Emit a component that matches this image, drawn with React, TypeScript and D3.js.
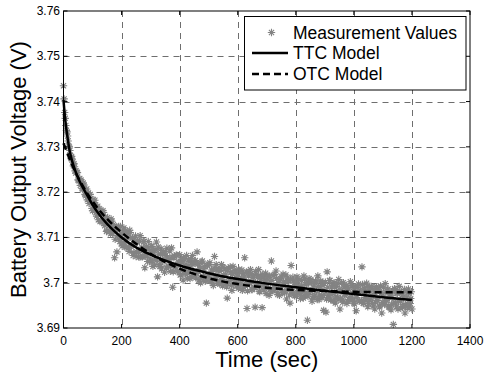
import React from 'react';
import * as d3 from 'd3';

const xTicks = [0, 200, 400, 600, 800, 1000, 1200, 1400];
const yTicks = [3.69, 3.7, 3.71, 3.72, 3.73, 3.74, 3.75, 3.76];
const yTickLabels = ['3.69', '3.7', '3.71', '3.72', '3.73', '3.74', '3.75', '3.76'];

const ttcT = [0, 5, 10, 15, 20, 30, 40, 50, 60, 80, 100, 125, 150, 175, 200, 250, 300, 400, 500, 600, 700, 800, 900, 1000, 1100, 1200];
const ttcV = [3.7403, 3.7366, 3.7338, 3.7316, 3.7295, 3.7268, 3.7248, 3.7232, 3.7218, 3.7195, 3.7172, 3.7149, 3.713, 3.7114, 3.71, 3.7078, 3.7062, 3.7038, 3.7021, 3.7008, 3.6998, 3.699, 3.6982, 3.6975, 3.6968, 3.6962];

const otcT = [0, 10, 20, 30, 40, 50, 60, 80, 100, 125, 150, 175, 200, 250, 300, 400, 500, 600, 700, 800, 900, 1000, 1100, 1200];
const otcV = [3.7308, 3.7291, 3.7275, 3.726, 3.7246, 3.7233, 3.7221, 3.7199, 3.718, 3.7159, 3.7141, 3.7125, 3.7111, 3.7086, 3.7064, 3.7031, 3.701, 3.6997, 3.6989, 3.6984, 3.6982, 3.698, 3.6979, 3.6979];

const measT = [
  0, 2, 4, 8, 12, 16, 20, 24, 28, 32,
  36, 40, 44, 48, 52, 56, 60, 64, 68, 72,
  76, 80, 84, 88, 92, 96, 100, 104, 108, 112,
  116, 120, 124, 128, 132, 136, 140, 144, 148, 152,
  156, 160, 164, 168, 172, 176, 180, 184, 188, 192,
  196, 200, 204, 208, 212, 216, 220, 224, 228, 232,
  236, 240, 244, 248, 252, 256, 260, 264, 268, 272,
  276, 280, 284, 288, 292, 296, 300, 304, 308, 312,
  316, 320, 324, 328, 332, 336, 340, 344, 348, 352,
  356, 360, 364, 368, 372, 376, 380, 384, 388, 392,
  396, 400, 404, 408, 412, 416, 420, 424, 428, 432,
  436, 440, 444, 448, 452, 456, 460, 464, 468, 472,
  476, 480, 484, 488, 492, 496, 500, 504, 508, 512,
  516, 520, 524, 528, 532, 536, 540, 544, 548, 552,
  556, 560, 564, 568, 572, 576, 580, 584, 588, 592,
  596, 600, 604, 608, 612, 616, 620, 624, 628, 632,
  636, 640, 644, 648, 652, 656, 660, 664, 668, 672,
  676, 680, 684, 688, 692, 696, 700, 704, 708, 712,
  716, 720, 724, 728, 732, 736, 740, 744, 748, 752,
  756, 760, 764, 768, 772, 776, 780, 784, 788, 792,
  796, 800, 804, 808, 812, 816, 820, 824, 828, 832,
  836, 840, 844, 848, 852, 856, 860, 864, 868, 872,
  876, 880, 884, 888, 892, 896, 900, 904, 908, 912,
  916, 920, 924, 928, 932, 936, 940, 944, 948, 952,
  956, 960, 964, 968, 972, 976, 980, 984, 988, 992,
  996, 1000, 1004, 1008, 1012, 1016, 1020, 1024, 1028, 1032,
  1036, 1040, 1044, 1048, 1052, 1056, 1060, 1064, 1068, 1072,
  1076, 1080, 1084, 1088, 1092, 1096, 1100, 1104, 1108, 1112,
  1116, 1120, 1124, 1128, 1132, 1136, 1140, 1144, 1148, 1152,
  1156, 1160, 1164, 1168, 1172, 1176, 1180, 1184, 1188, 1192,
  1196, 1200,
];
const measV = [
  3.7435, 3.7406, 3.7376, 3.7347, 3.7333, 3.7313, 3.73, 3.7281, 3.7279, 3.7266,
  3.7263, 3.7247, 3.7247, 3.7243, 3.7225, 3.723, 3.7227, 3.7208, 3.722, 3.7207,
  3.7192, 3.7207, 3.7196, 3.7175, 3.7195, 3.7178, 3.7159, 3.7177, 3.7182, 3.7155,
  3.7161, 3.7139, 3.7163, 3.7154, 3.7135, 3.7159, 3.7136, 3.7145, 3.7113, 3.7144,
  3.7131, 3.7113, 3.7141, 3.7114, 3.7128, 3.7055, 3.7117, 3.7068, 3.7123, 3.7096,
  3.7124, 3.7086, 3.7107, 3.7121, 3.7078, 3.7096, 3.711, 3.7077, 3.7116, 3.708,
  3.7098, 3.706, 3.7089, 3.7103, 3.7068, 3.7093, 3.7056, 3.7104, 3.7074, 3.7057,
  3.7091, 3.7033, 3.7078, 3.7059, 3.7091, 3.7047, 3.7067, 3.708, 3.7036, 3.7072,
  3.7053, 3.709, 3.7013, 3.7063, 3.7036, 3.7075, 3.7049, 3.7066, 3.7023, 3.706,
  3.7076, 3.7037, 3.7051, 3.7025, 3.7077, 3.699, 3.7055, 3.7034, 3.7061, 3.7025,
  3.7045, 3.7062, 3.7018, 3.7046, 3.7006, 3.7052, 3.7031, 3.706, 3.7021, 3.7036,
  3.7009, 3.7045, 3.706, 3.7022, 3.7047, 3.7011, 3.7068, 3.7025, 3.7037, 3.7,
  3.7046, 3.7014, 3.7031, 3.7003, 3.6955, 3.7038, 3.7015, 3.7044, 3.7006, 3.7025,
  3.6994, 3.7058, 3.7015, 3.7031, 3.6999, 3.7025, 3.7007, 3.704, 3.6993, 3.7017,
  3.7031, 3.7, 3.6966, 3.7032, 3.7005, 3.7022, 3.6983, 3.7036, 3.7009, 3.7024,
  3.6993, 3.7014, 3.7029, 3.6996, 3.701, 3.6983, 3.702, 3.7055, 3.6997, 3.6943,
  3.7023, 3.6999, 3.7029, 3.6985, 3.7012, 3.699, 3.6946, 3.7018, 3.6999, 3.7029,
  3.698, 3.7008, 3.6945, 3.7013, 3.6989, 3.7021, 3.6996, 3.7015, 3.6972, 3.7002,
  3.7048, 3.6983, 3.7016, 3.6989, 3.7026, 3.6978, 3.7, 3.6972, 3.7009, 3.6994,
  3.7019, 3.6979, 3.7002, 3.6964, 3.7011, 3.6989, 3.6955, 3.7038, 3.6981, 3.7004,
  3.6971, 3.6996, 3.7013, 3.6977, 3.6991, 3.6965, 3.7005, 3.6982, 3.7015, 3.6971,
  3.6996, 3.6917, 3.7001, 3.6978, 3.7007, 3.6959, 3.699, 3.697, 3.7004, 3.6982,
  3.7015, 3.6963, 3.6991, 3.6971, 3.7, 3.6939, 3.6983, 3.6935, 3.7024, 3.6973,
  3.7005, 3.6962, 3.6991, 3.6976, 3.7, 3.6955, 3.6992, 3.6968, 3.7007, 3.6942,
  3.6984, 3.6962, 3.7, 3.6975, 3.6992, 3.6954, 3.6986, 3.6963, 3.7002, 3.6969,
  3.6993, 3.6955, 3.6986, 3.6938, 3.6977, 3.6997, 3.696, 3.6981, 3.7035, 3.6955,
  3.6988, 3.6967, 3.6999, 3.6947, 3.6981, 3.6962, 3.6992, 3.6954, 3.6974, 3.6942,
  3.6988, 3.6966, 3.6983, 3.6947, 3.6993, 3.6933, 3.6975, 3.6955, 3.6998, 3.6961,
  3.6984, 3.6947, 3.6975, 3.694, 3.6968, 3.6908, 3.6987, 3.6955, 3.6977, 3.6942,
  3.6992, 3.696, 3.6978, 3.6946, 3.6969, 3.6933, 3.6981, 3.6954, 3.6986, 3.6948,
  3.6965, 3.6942,
];

const measT2 = [
  6, 10, 14, 18, 22, 26, 30, 34, 38, 42,
  46, 50, 54, 58, 62, 66, 70, 74, 78, 82,
  86, 90, 94, 98, 102, 106, 110, 114, 118, 122,
  126, 130, 134, 138, 142, 146, 150, 154, 158, 162,
  166, 170, 174, 178, 182, 186, 190, 194, 198, 202,
  206, 210, 214, 218, 222, 226, 230, 234, 238, 242,
  246, 250, 254, 258, 262, 266, 270, 274, 278, 282,
  286, 290, 294, 298, 302, 306, 310, 314, 318, 322,
  326, 330, 334, 338, 342, 346, 350, 354, 358, 362,
  366, 370, 374, 378, 382, 386, 390, 394, 398, 402,
  406, 410, 414, 418, 422, 426, 430, 434, 438, 442,
  446, 450, 454, 458, 462, 466, 470, 474, 478, 482,
  486, 490, 494, 498, 502, 506, 510, 514, 518, 522,
  526, 530, 534, 538, 542, 546, 550, 554, 558, 562,
  566, 570, 574, 578, 582, 586, 590, 594, 598, 602,
  606, 610, 614, 618, 622, 626, 630, 634, 638, 642,
  646, 650, 654, 658, 662, 666, 670, 674, 678, 682,
  686, 690, 694, 698, 702, 706, 710, 714, 718, 722,
  726, 730, 734, 738, 742, 746, 750, 754, 758, 762,
  766, 770, 774, 778, 782, 786, 790, 794, 798, 802,
  806, 810, 814, 818, 822, 826, 830, 834, 838, 842,
  846, 850, 854, 858, 862, 866, 870, 874, 878, 882,
  886, 890, 894, 898, 902, 906, 910, 914, 918, 922,
  926, 930, 934, 938, 942, 946, 950, 954, 958, 962,
  966, 970, 974, 978, 982, 986, 990, 994, 998, 1002,
  1006, 1010, 1014, 1018, 1022, 1026, 1030, 1034, 1038, 1042,
  1046, 1050, 1054, 1058, 1062, 1066, 1070, 1074, 1078, 1082,
  1086, 1090, 1094, 1098, 1102, 1106, 1110, 1114, 1118, 1122,
  1126, 1130, 1134, 1138, 1142, 1146, 1150, 1154, 1158, 1162,
  1166, 1170, 1174, 1178, 1182, 1186, 1190, 1194, 1198,
];
const measV2 = [
  3.7363, 3.7336, 3.7324, 3.7302, 3.7292, 3.7274, 3.7273, 3.7258, 3.7256, 3.7242,
  3.7244, 3.7227, 3.7229, 3.7215, 3.7223, 3.7207, 3.7216, 3.7195, 3.7202, 3.7183,
  3.7198, 3.718, 3.7186, 3.7164, 3.7183, 3.7161, 3.7172, 3.7147, 3.7169, 3.7154,
  3.7135, 3.7156, 3.7136, 3.7155, 3.7126, 3.714, 3.7115, 3.7139, 3.7126, 3.7108,
  3.7136, 3.7108, 3.7124, 3.7096, 3.7123, 3.7104, 3.7124, 3.7091, 3.7109, 3.7081,
  3.7112, 3.7088, 3.7115, 3.7079, 3.7101, 3.7069, 3.7111, 3.7082, 3.7099, 3.7067,
  3.7089, 3.7058, 3.7089, 3.7067, 3.7092, 3.7057, 3.7078, 3.7059, 3.7091, 3.7062,
  3.708, 3.7047, 3.7074, 3.7053, 3.7081, 3.7048, 3.7066, 3.7039, 3.7073, 3.705,
  3.7079, 3.704, 3.7063, 3.7031, 3.7064, 3.7047, 3.7069, 3.7033, 3.7055, 3.7036,
  3.707, 3.7037, 3.7057, 3.7024, 3.7058, 3.7035, 3.7061, 3.7025, 3.7046, 3.7017,
  3.7051, 3.7027, 3.7055, 3.702, 3.704, 3.701, 3.705, 3.7027, 3.7053, 3.7014,
  3.704, 3.7017, 3.7049, 3.702, 3.7042, 3.7006, 3.7031, 3.7011, 3.7048, 3.7014,
  3.7035, 3.7005, 3.7039, 3.7017, 3.704, 3.7004, 3.7028, 3.6998, 3.7032, 3.7012,
  3.704, 3.7002, 3.7028, 3.6997, 3.7031, 3.7007, 3.7034, 3.7001, 3.7019, 3.6991,
  3.7028, 3.7002, 3.7035, 3.6994, 3.7019, 3.6996, 3.7027, 3.7004, 3.7021, 3.6988,
  3.7023, 3.6999, 3.7028, 3.699, 3.7013, 3.6993, 3.7024, 3.6982, 3.7015, 3.7,
  3.702, 3.6985, 3.7012, 3.6989, 3.7025, 3.6992, 3.7013, 3.6981, 3.7015, 3.6994,
  3.7019, 3.6984, 3.7005, 3.6976, 3.7011, 3.6988, 3.7015, 3.698, 3.7005, 3.6984,
  3.7018, 3.6991, 3.7009, 3.6974, 3.7006, 3.6985, 3.7013, 3.6978, 3.7, 3.698,
  3.7017, 3.6985, 3.7004, 3.6973, 3.7007, 3.698, 3.7012, 3.6975, 3.6999, 3.697,
  3.7004, 3.6983, 3.7007, 3.6975, 3.6993, 3.6966, 3.7008, 3.6978, 3.6999, 3.697,
  3.7009, 3.6981, 3.7001, 3.6966, 3.6995, 3.6973, 3.7002, 3.6963, 3.6992, 3.6973,
  3.7004, 3.6967, 3.6994, 3.6975, 3.7001, 3.6964, 3.699, 3.6968, 3.7005, 3.6975,
  3.6995, 3.696, 3.6991, 3.6969, 3.6999, 3.6963, 3.6985, 3.6966, 3.7, 3.6957,
  3.699, 3.6973, 3.6994, 3.6959, 3.6986, 3.6967, 3.6997, 3.6961, 3.6981, 3.6953,
  3.6991, 3.6967, 3.6993, 3.6959, 3.6984, 3.6961, 3.6996, 3.6954, 3.698, 3.6962,
  3.6992, 3.6954, 3.6984, 3.6966, 3.6989, 3.6948, 3.698, 3.6957, 3.6991, 3.6961,
  3.6984, 3.6949, 3.6977, 3.6957, 3.699, 3.6952, 3.6979, 3.6963, 3.6986, 3.6946,
  3.6973, 3.6952, 3.6982, 3.6957, 3.6985, 3.6947, 3.6976, 3.6959, 3.6981, 3.6944,
  3.6973, 3.6952, 3.6985, 3.6948, 3.6968, 3.6944, 3.6976, 3.6954, 3.698,
];

const legendLabels = ['Measurement Values', 'TTC Model', 'OTC Model'];

const FONT = '"Liberation Sans", Arial, Helvetica, sans-serif';
const GRAY = '#838383';

function asterisk(r: number) {
  const d = r * 0.7;
  return `M${-r},0H${r}M0,${-r}V${r}M${-d},${-d}L${d},${d}M${-d},${d}L${d},${-d}`;
}

export default function App() {
  const W = 484;
  const H = 379;
  const x = d3.scaleLinear().domain([0, 1400]).range([63.5, 470]);
  const y = d3.scaleLinear().domain([3.69, 3.76]).range([328, 11]);
  const [x0, x1] = x.range();
  const [y0, y1] = y.range();

  const ttcData = ttcT.map((t, i) => [t, ttcV[i]] as [number, number]);
  const otcData = otcT.map((t, i) => [t, otcV[i]] as [number, number]);
  const line = d3
    .line<[number, number]>()
    .x((d) => x(d[0]))
    .y((d) => y(d[1]))
    .curve(d3.curveMonotoneX);

  const meas = [
    ...measT.map((t, i) => [t, measV[i]] as [number, number]),
    ...measT2.map((t, i) => [t, measV2[i]] as [number, number]),
  ];

  const mk = asterisk(3.7);
  const tickLen = 4;

  return (
    <svg
      width={W}
      height={H}
      style={{ position: 'absolute', left: 0, top: 0, background: '#fff' }}
      fontFamily={FONT}
    >
      <rect x={0} y={0} width={W} height={H} fill="#fff" />
      {/* grid */}
      <g stroke="#6e6e6e" strokeWidth={1} strokeDasharray="6,5">
        {xTicks.slice(1, -1).map((t) => (
          <line key={'gx' + t} x1={Math.round(x(t)) + 0.5} x2={Math.round(x(t)) + 0.5} y1={y1} y2={y0} />
        ))}
        {yTicks.slice(1, -1).map((t) => (
          <line key={'gy' + t} x1={x0} x2={x1} y1={Math.round(y(t)) + 0.5} y2={Math.round(y(t)) + 0.5} />
        ))}
      </g>
      {/* measurement markers */}
      <g stroke={GRAY} strokeWidth={1.1} fill="none">
        {meas.map((d, i) => (
          <path key={'m' + i} d={mk} transform={`translate(${x(d[0])},${y(d[1])})`} />
        ))}
      </g>
      {/* model lines */}
      <path d={line(ttcData) || ''} fill="none" stroke="#000" strokeWidth={2.5} />
      <path d={line(otcData) || ''} fill="none" stroke="#000" strokeWidth={2.5} strokeDasharray="7,4" />
      {/* axes box */}
      <rect x={x0} y={y1} width={x1 - x0} height={y0 - y1} fill="none" stroke="#000" strokeWidth={1} />
      {/* ticks */}
      <g stroke="#000" strokeWidth={1}>
        {xTicks.map((t) => (
          <g key={'tx' + t}>
            <line x1={x(t)} x2={x(t)} y1={y0} y2={y0 - tickLen} />
            <line x1={x(t)} x2={x(t)} y1={y1} y2={y1 + tickLen} />
          </g>
        ))}
        {yTicks.map((t) => (
          <g key={'ty' + t}>
            <line x1={x0} x2={x0 + tickLen} y1={y(t)} y2={y(t)} />
            <line x1={x1} x2={x1 - tickLen} y1={y(t)} y2={y(t)} />
          </g>
        ))}
      </g>
      {/* tick labels */}
      <g fontSize={12} fill="#000">
        {xTicks.map((t) => (
          <text key={'lx' + t} x={x(t)} y={345} textAnchor="middle">
            {String(t)}
          </text>
        ))}
        {yTicks.map((t, i) => (
          <text key={'ly' + t} x={60} y={y(t) + 4} textAnchor="end">
            {yTickLabels[i]}
          </text>
        ))}
      </g>
      {/* axis titles */}
      <text x={(x0 + x1) / 2} y={367} fontSize={22} textAnchor="middle" fill="#000">
        Time (sec)
      </text>
      <text
        transform={`translate(26,${(y0 + y1) / 2}) rotate(-90)`}
        fontSize={22}
        textAnchor="middle"
        fill="#000"
      >
        Battery Output Voltage (V)
      </text>
      {/* legend */}
      <g>
        <rect x={244.5} y={16.5} width={221.5} height={73.5} fill="#fff" stroke="#000" strokeWidth={1} />
        <path d={mk} transform="translate(271.5,32.5)" stroke={GRAY} strokeWidth={1.1} fill="none" />
        <line x1={252} x2={288} y1={53} y2={53} stroke="#000" strokeWidth={2.5} />
        <line x1={252} x2={288} y1={74} y2={74} stroke="#000" strokeWidth={2.5} strokeDasharray="7,4" />
        {legendLabels.map((s, i) => (
          <text key={s} x={293} y={38.5 + i * 20.8} fontSize={17.5} fill="#000">
            {s}
          </text>
        ))}
      </g>
    </svg>
  );
}
